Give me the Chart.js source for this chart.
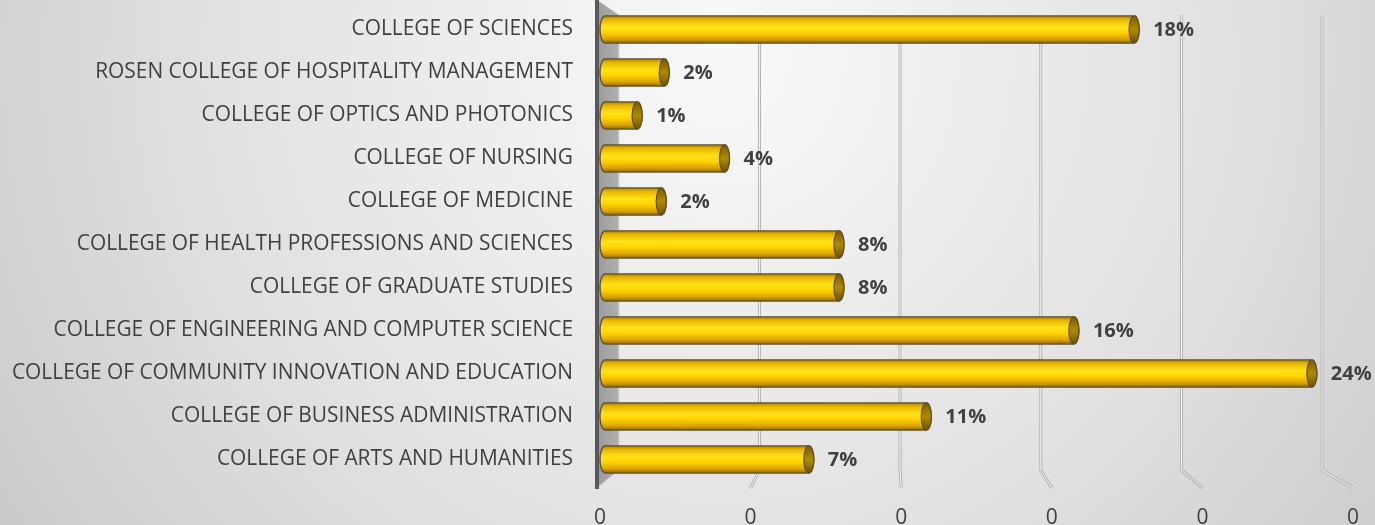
<!DOCTYPE html>
<html>
<head>
<meta charset="utf-8">
<script src="https://cdn.jsdelivr.net/npm/chart.js@4/dist/chart.umd.min.js"></script>
<style>
  html, body { margin: 0; padding: 0; }
  #wrap { width: 1375px; height: 525px; position: relative; }
</style>
</head>
<body>
<div id="wrap"><canvas id="chart__colleges"></canvas></div>
<script>
// colleges, alphabetical (drawn bottom to top)
const colleges = [
    'COLLEGE OF ARTS AND HUMANITIES',
    'COLLEGE OF BUSINESS ADMINISTRATION',
    'COLLEGE OF COMMUNITY INNOVATION AND EDUCATION',
    'COLLEGE OF ENGINEERING AND COMPUTER SCIENCE',
    'COLLEGE OF GRADUATE STUDIES',
    'COLLEGE OF HEALTH PROFESSIONS AND SCIENCES',
    'COLLEGE OF MEDICINE',
    'COLLEGE OF NURSING',
    'COLLEGE OF OPTICS AND PHOTONICS',
    'ROSEN COLLEGE OF HOSPITALITY MANAGEMENT',
    'COLLEGE OF SCIENCES'
];
const shares = [0.071, 0.110, 0.238, 0.159, 0.081, 0.081, 0.022, 0.043, 0.014, 0.023, 0.179];
const xTicks = [0, 0.05, 0.10, 0.15, 0.20, 0.25];

const textColor = '#404040';
const fontFamily = '"Open Sans", "Noto Sans", sans-serif';

// page background
const backdrop = {
    id: 'backdrop',
    beforeDraw(chart) {
        const ctx = chart.ctx;
        const g = ctx.createRadialGradient(720, 60, 20, 720, 60, 950);
        g.addColorStop(0, '#f8f8f8');
        g.addColorStop(0.55, '#e0e0e0');
        g.addColorStop(1, '#c4c4c4');
        ctx.save();
        ctx.fillStyle = g;
        ctx.fillRect(0, 0, chart.width, chart.height);
        ctx.restore();
    }
};

// side wall, axis line and bent grid lines (fake 3d)
const wall = {
    id: 'wall',
    beforeDatasetsDraw(chart) {
        const ctx = chart.ctx;
        const a = chart.chartArea;
        const sx = chart.scales.x;
        const x0 = a.left - 3;
        const depth = 22;
        const topBack = a.top + 7, botBack = a.bottom - 11, botFront = a.bottom + 7;
        ctx.save();
        // grid lines: back part vertical, front part bends to the tick
        xTicks.slice(1).forEach(v => {
            const front = sx.getPixelForValue(v);
            const back = x0 + depth + (front - x0) * 0.934 - 3;
            ctx.beginPath();
            ctx.moveTo(back, topBack);
            ctx.lineTo(back, botBack);
            ctx.lineTo(front, botFront);
            ctx.strokeStyle = '#b4b4b4';
            ctx.lineWidth = 3;
            ctx.stroke();
            ctx.strokeStyle = '#f6f6f6';
            ctx.lineWidth = 1;
            ctx.stroke();
        });
        // left wall
        ctx.beginPath();
        ctx.moveTo(x0, 0);
        ctx.lineTo(x0 + depth, topBack);
        ctx.lineTo(x0 + depth, botBack);
        ctx.lineTo(x0, botFront);
        ctx.closePath();
        const wg = ctx.createLinearGradient(x0, 0, x0 + depth, 0);
        wg.addColorStop(0, '#9a9a9a');
        wg.addColorStop(1, '#b0b0b0');
        ctx.fillStyle = wg;
        ctx.fill();
        ctx.strokeStyle = '#dadada';
        ctx.lineWidth = 1;
        ctx.beginPath();
        ctx.moveTo(x0 + depth, topBack);
        ctx.lineTo(x0 + depth, botBack);
        ctx.lineTo(x0, botFront);
        ctx.stroke();
        // axis line
        ctx.beginPath();
        ctx.moveTo(x0, 0);
        ctx.lineTo(x0, botFront + 1);
        ctx.strokeStyle = '#595959';
        ctx.lineWidth = 4;
        ctx.stroke();
        ctx.restore();
    }
};

// gold cylinders drawn over the bar elements
const cylinders = {
    id: 'cylinders',
    afterDatasetsDraw(chart) {
        const ctx = chart.ctx;
        const meta = chart.getDatasetMeta(0);
        ctx.save();
        meta.data.forEach((bar, i) => {
            const p = bar.getProps(['x', 'y', 'base', 'height'], true);
            const h = p.height, top = p.y - h / 2, bot = p.y + h / 2;
            const rx = 5;
            const left = p.base + rx, right = Math.max(p.x - rx, left);
            const g = ctx.createLinearGradient(0, top, 0, bot);
            g.addColorStop(0, '#a98000');
            g.addColorStop(0.12, '#e6b400');
            g.addColorStop(0.4, '#ffe21a');
            g.addColorStop(0.6, '#ffd400');
            g.addColorStop(0.85, '#dca300');
            g.addColorStop(1, '#8c6a00');
            ctx.beginPath();
            ctx.moveTo(right, top);
            ctx.lineTo(left, top);
            ctx.ellipse(left, p.y, rx, h / 2, 0, -Math.PI / 2, Math.PI / 2, true);
            ctx.lineTo(right, bot);
            ctx.ellipse(right, p.y, rx, h / 2, 0, Math.PI / 2, -Math.PI / 2, true);
            ctx.closePath();
            ctx.fillStyle = g;
            ctx.fill();
            ctx.strokeStyle = '#5e5030';
            ctx.lineWidth = 1.3;
            ctx.stroke();
            // end cap
            const cg = ctx.createLinearGradient(0, top, 0, bot);
            cg.addColorStop(0, '#7a5e00');
            cg.addColorStop(0.5, '#b08a00');
            cg.addColorStop(1, '#6e5400');
            ctx.beginPath();
            ctx.ellipse(right, p.y, rx, h / 2, 0, 0, Math.PI * 2);
            ctx.fillStyle = cg;
            ctx.fill();
            ctx.stroke();
            // label
            ctx.fillStyle = textColor;
            ctx.font = 'bold 20px ' + fontFamily;
            ctx.textAlign = 'left';
            ctx.textBaseline = 'middle';
            ctx.fillText(Math.round(shares[i] * 100) + '%', p.x + 14, p.y + 1);
        });
        ctx.restore();
    }
};

const data = {
    labels: colleges,
    datasets: [{
        label: 'Share',
        data: shares,
        backgroundColor: 'rgba(0,0,0,0)',
        borderWidth: 0,
        categoryPercentage: 1,
        barPercentage: 0.63,
    }]
};

const config = {
    type: 'bar',
    data: data,
    options: {
        indexAxis: 'y',
        responsive: true,
        maintainAspectRatio: false,
        animation: false,
        layout: { padding: { top: 8, right: 18, bottom: 0, left: 0 } },
        plugins: {
            legend: { display: false },
            tooltip: { enabled: false },
        },
        scales: {
            x: {
                min: 0,
                max: 0.25,
                afterBuildTicks: s => { s.ticks = xTicks.map(v => ({ value: v })); },
                afterFit: s => { s.height = 44; },
                grid: { display: false },
                border: { display: false },
                ticks: {
                    color: textColor,
                    font: { family: fontFamily, size: 21 },
                    padding: 16,
                    maxRotation: 0,
                    callback: v => v.toFixed(0),
                },
            },
            y: {
                reverse: true,
                afterFit: s => { s.width = 600; s.paddingTop = 0; s.paddingBottom = 0; },
                grid: { display: false },
                border: { display: false },
                ticks: {
                    color: textColor,
                    font: { family: fontFamily, size: 20.9 },
                    padding: 19,
                },
            },
        },
    },
    plugins: [backdrop, wall, cylinders],
};

const canvas = document.getElementById('chart__colleges');
const chart = new Chart(canvas, config);
</script>
</body>
</html>
